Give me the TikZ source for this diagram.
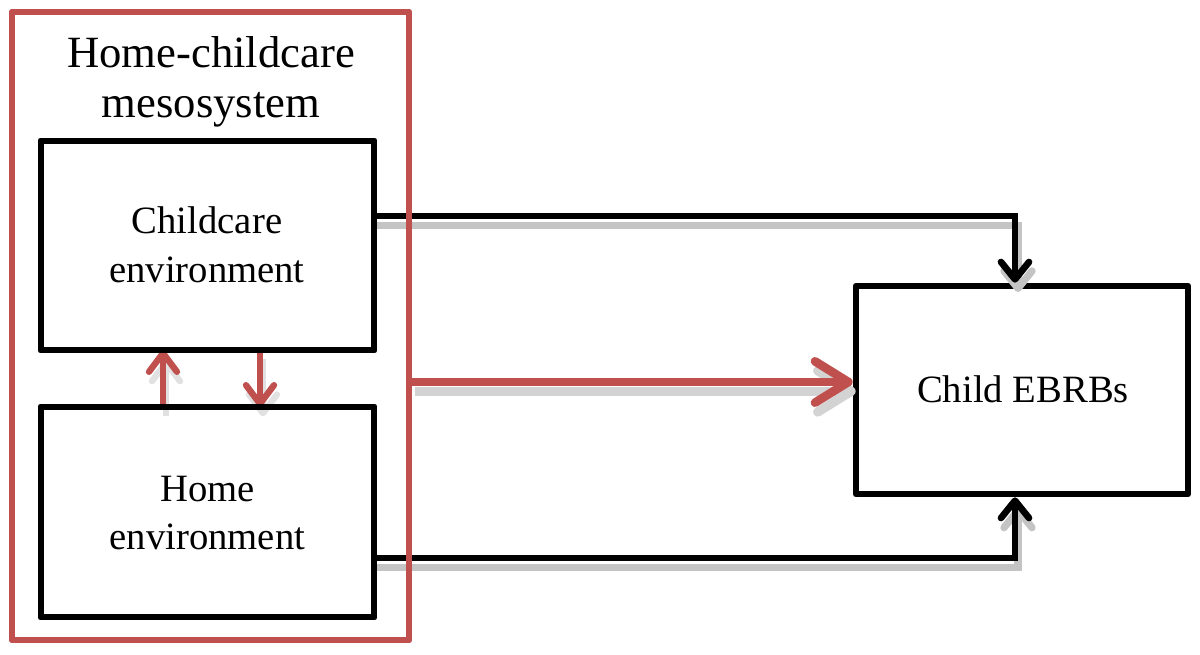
\documentclass[tikz,border=0pt]{standalone}
\usepackage{fontspec}
\setmainfont{Liberation Serif}
\usetikzlibrary{arrows.meta,calc}
\definecolor{mesored}{HTML}{C0504D}
\definecolor{shadowgray}{HTML}{C4C4C4}
\begin{document}
\begin{tikzpicture}[x=0.75pt,y=-0.75pt,
  envbox/.style={draw=black,line width=5pt,line join=round,minimum width=249.75pt,inner sep=0pt,outer sep=0pt},
  outbox/.style={draw=black,line width=5pt,line join=round,minimum width=249pt,minimum height=156pt,inner sep=0pt},
  mesobox/.style={draw=mesored,line width=4.25pt,line join=round,minimum width=297.75pt,minimum height=471pt,inner sep=0pt},
  titletext/.style={font=\fontsize{33.5}{38}\selectfont,inner sep=0pt},
  bodytext/.style={font=\fontsize{29}{35}\selectfont,inner sep=0pt},
  conn/.style={draw=black,line width=5pt,-{Straight Barb[round,length=13pt,width=21pt]}},
  redconn/.style={draw=mesored,line width=6.5pt,-{Straight Barb[round,length=25pt,width=31pt]}},
  smallred/.style={draw=mesored,line width=4.75pt,-{Straight Barb[round,length=14pt,width=21pt]}},
  shadowconn/.style={draw=shadowgray,line width=5.5pt,-{Straight Barb[round,length=13pt,width=21pt]}},
  shadowred/.style={draw=shadowgray!75,line width=7pt,-{Straight Barb[round,length=25pt,width=31pt]}},
  shadowsmall/.style={draw=shadowgray!50,line width=4.75pt,-{Straight Barb[round,length=14pt,width=21pt]}}
]
\useasboundingbox (0,0) rectangle (1200,655);

% boxes (positions)
\node[envbox,minimum height=156.75pt] (care) at (207.5,245.5) {};
\node[envbox,minimum height=157.5pt] (home) at (207.5,512) {};
\node[outbox] (ebrb) at (1022,390) {};
\node[mesobox] (meso) at (210.5,326) {};

% helper coordinates
\coordinate (topturn) at (1015,216);
\coordinate (botturn) at (1015,558);
\coordinate (redy) at (0,382);
\coordinate (upx) at (163,0);
\coordinate (downx) at (260,0);

% shadows
\begin{scope}[transform canvas={xshift=2.25pt,yshift=-7pt}]
  \draw[shadowconn] (care.east |- topturn) -- (topturn) -- (ebrb.north -| topturn);
  \draw[shadowconn] (home.east |- botturn) -- (botturn) -- (ebrb.south -| botturn);
  \draw[shadowred] (meso.east |- redy) -- (ebrb.west |- redy);
  \draw[shadowsmall] (home.north -| upx) -- (care.south -| upx);
  \draw[shadowsmall] (care.south -| downx) -- (home.north -| downx);
\end{scope}

% connectors
\draw[conn] (care.east |- topturn) -- (topturn) -- (ebrb.north -| topturn);
\draw[conn] (home.east |- botturn) -- (botturn) -- (ebrb.south -| botturn);
\draw[redconn] (meso.east |- redy) -- (ebrb.west |- redy);
\draw[smallred] (home.north -| upx) -- (care.south -| upx);
\draw[smallred] (care.south -| downx) -- (home.north -| downx);

% redraw boxes on top
\node[envbox,minimum height=156.75pt] at (care) {};
\node[envbox,minimum height=157.5pt] at (home) {};
\node[mesobox] at (meso) {};

% texts
\node[titletext,anchor=base] (t1) at (211,68) {Home-childcare};
\node[titletext,anchor=base] (t2) at (211,118) {mesosystem};
\node[bodytext,anchor=base] (c1) at (207,234) {Childcare};
\node[bodytext,anchor=base] (c2) at (207,283) {environment};
\node[bodytext,anchor=base] (h1) at (207.5,502) {Home};
\node[bodytext,anchor=base] (h2) at (207.5,550) {environment};
\node[bodytext,anchor=base] (e1) at (1023,403) {Child EBRBs};
\end{tikzpicture}
\end{document}
